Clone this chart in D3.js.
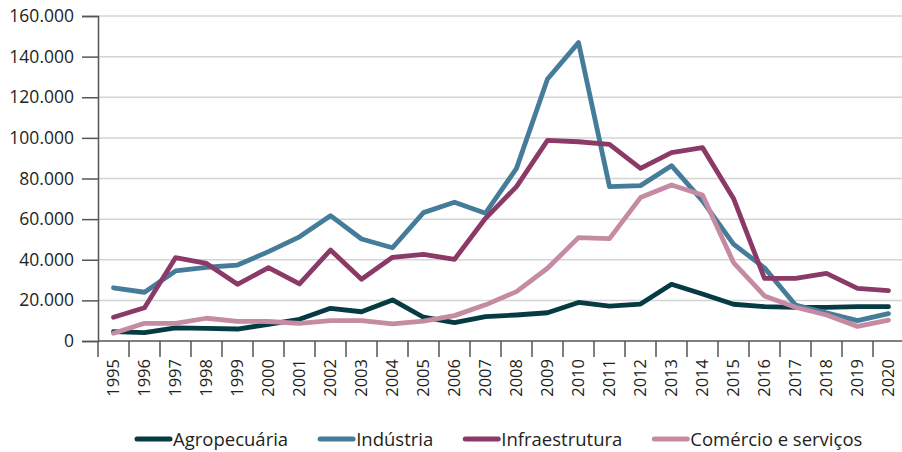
<!DOCTYPE html>
<html>
<head>
<meta charset="utf-8">
<script src="https://cdn.jsdelivr.net/npm/d3@7"></script>
<style>
  html, body { margin: 0; padding: 0; background: #fff; }
  svg { display: block; font-family: "Open Sans", "Noto Sans", sans-serif; }
</style>
</head>
<body>
<svg id="chart" width="902" height="452"></svg>
<script>
const years = ["1995","1996","1997","1998","1999","2000","2001","2002","2003","2004","2005","2006","2007","2008","2009","2010","2011","2012","2013","2014","2015","2016","2017","2018","2019","2020"];
const yTicks = [0, 20000, 40000, 60000, 80000, 100000, 120000, 140000, 160000];
const seriesNames = ["Agropecuária", "Indústria", "Infraestrutura", "Comércio e serviços"];
const seriesColors = ["#073b44", "#457c9a", "#8b3a68", "#c48ba2"];

const agropecuaria = [4600, 4100, 6500, 6200, 5900, 8200, 10700, 16100, 14400, 20200, 11700, 9000, 12000, 12800, 13900, 19000, 17200, 18200, 27900, 23100, 18100, 16900, 16600, 16600, 16900, 16900];
const industria = [26200, 24000, 34500, 36300, 37400, 44000, 51300, 61700, 50200, 45900, 63200, 68300, 62900, 85000, 129000, 146900, 76000, 76500, 86300, 69000, 47700, 36000, 17700, 13900, 10000, 13500];
const infraestrutura = [11700, 16400, 41000, 38200, 27900, 36100, 28100, 44800, 30400, 41200, 42700, 40200, 60400, 76000, 98800, 98100, 96800, 85000, 92700, 95200, 70200, 30800, 30800, 33300, 25900, 24800];
const comercio = [3800, 8700, 8700, 11200, 9700, 9600, 8700, 10000, 10000, 8400, 9800, 12500, 17800, 24300, 35800, 50900, 50400, 70600, 76800, 71900, 38600, 22200, 16600, 12800, 7200, 10300];

const seriesValues = [agropecuaria, industria, infraestrutura, comercio];

(function () {
const svg = d3.select("#chart");
const mLeft = 98, mRight = 904, mTop = 16, mBottom = 341;
const textColor = "#231f20";

const x = d3.scaleBand().domain(years).range([mLeft, mRight]);
const y = d3.scaleLinear().domain([0, 160000]).range([mBottom, mTop]);

const locale = d3.formatLocale({decimal: ",", thousands: ".", grouping: [3], currency: ["", ""]});
const fmt = locale.format(",d");

// gridlines
svg.append("g")
  .selectAll("line")
  .data(yTicks.filter(d => d > 0))
  .join("line")
  .attr("x1", mLeft).attr("x2", 902)
  .attr("y1", d => y(d)).attr("y2", d => y(d))
  .attr("stroke", "#d4d4d4").attr("stroke-width", 1.5);

// y axis
const yAxis = svg.append("g")
  .attr("transform", `translate(${mLeft},0)`)
  .call(d3.axisLeft(y).tickValues(yTicks).tickFormat(fmt).tickSize(16).tickPadding(8));
yAxis.select(".domain").attr("stroke", "#555").attr("stroke-width", 1.5);
yAxis.selectAll(".tick line").attr("stroke", "#555").attr("stroke-width", 1.5);
yAxis.selectAll(".tick text").attr("fill", textColor).style("font-size", "17.5px")
  .style("font-family", "'Open Sans', sans-serif");

// x axis line
svg.append("line")
  .attr("x1", mLeft).attr("x2", 902)
  .attr("y1", mBottom).attr("y2", mBottom)
  .attr("stroke", "#555").attr("stroke-width", 1.5);

// x boundary ticks
const boundaries = years.map(d => x(d)).concat([x(years[years.length - 1]) + x.bandwidth()]);
svg.append("g")
  .selectAll("line")
  .data(boundaries)
  .join("line")
  .attr("x1", d => d).attr("x2", d => d)
  .attr("y1", mBottom).attr("y2", mBottom + 16)
  .attr("stroke", "#555").attr("stroke-width", 1.5);

// x labels
const xAxis = svg.append("g")
  .attr("transform", `translate(0,${mBottom})`)
  .call(d3.axisBottom(x).tickSize(0).tickPadding(0));
xAxis.select(".domain").remove();
xAxis.selectAll(".tick text")
  .attr("fill", textColor)
  .style("font-size", "16.5px")
  .style("font-family", "'Open Sans', sans-serif")
  .attr("text-anchor", "end")
  .attr("transform", "rotate(-90)")
  .attr("x", -18)
  .attr("y", 0)
  .attr("dy", "0.36em");

// lines
const line = d3.line()
  .x((d, i) => x(years[i]) + x.bandwidth() / 2)
  .y(d => y(d));

svg.append("g")
  .selectAll("path")
  .data(seriesValues)
  .join("path")
  .attr("d", d => line(d))
  .attr("fill", "none")
  .attr("stroke", (d, i) => seriesColors[i])
  .attr("stroke-width", 4.8)
  .attr("stroke-linejoin", "round")
  .attr("stroke-linecap", "round");

// legend
const legend = svg.append("g").attr("transform", "translate(0,439)");
let cx = 135;
seriesNames.forEach((name, i) => {
  const g = legend.append("g").attr("transform", `translate(${cx},0)`);
  g.append("line")
    .attr("x1", 2).attr("x2", 35)
    .attr("y1", 0).attr("y2", 0)
    .attr("stroke", seriesColors[i])
    .attr("stroke-width", 5)
    .attr("stroke-linecap", "round");
  const t = g.append("text")
    .attr("x", 38).attr("y", 6.5)
    .attr("fill", textColor)
    .style("font-size", "18.5px")
    .text(name);
  const w = t.node().getComputedTextLength();
  cx += 38 + w + 30;
});
})();
</script>
</body>
</html>
